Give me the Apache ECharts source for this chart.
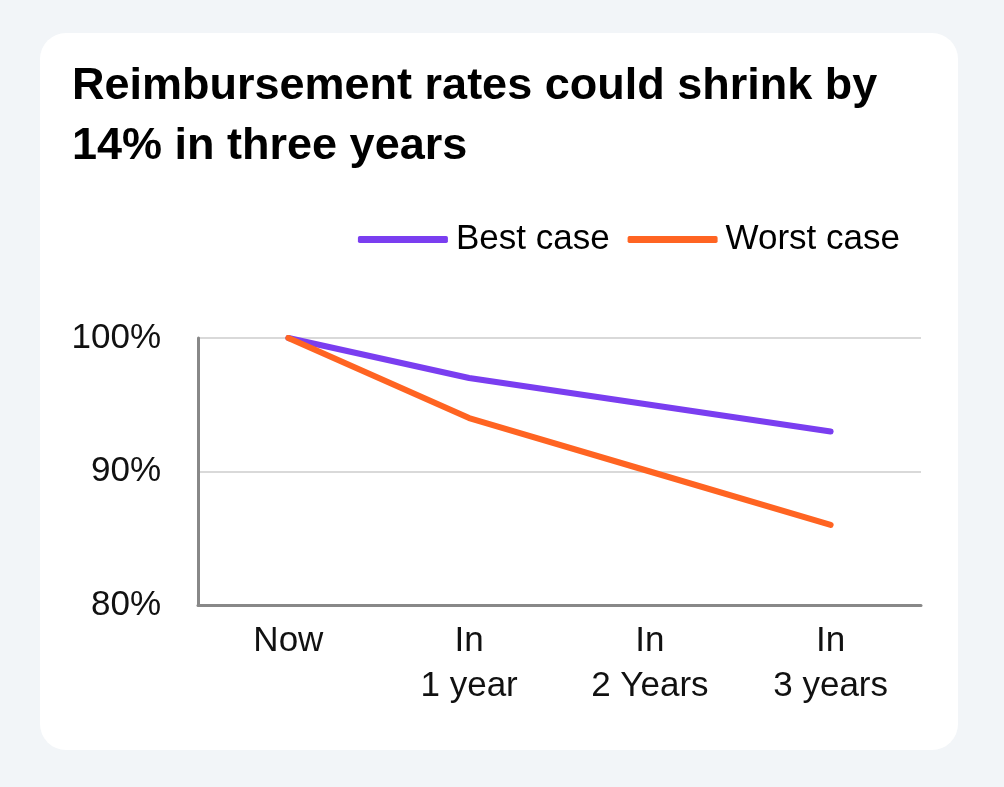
<!DOCTYPE html>
<html>
<head>
<meta charset="utf-8">
<script src="https://cdn.jsdelivr.net/npm/echarts@6/dist/echarts.min.js"></script>
<style>
html,body{margin:0;padding:0;background:#f2f5f8;}
#c{width:1004px;height:787px;}
</style>
</head>
<body>
<div id="c"></div>
<script>
const categories = ['Now', 'In\n1 year', 'In\n2 Years', 'In\n3 years'];
const bestCase = [100, 97, 95, 93];
const worstCase = [100, 94, 90, 86];
const yTicks = [80, 90, 100];

const chart = echarts.init(document.getElementById('c'), null, {renderer: 'canvas'});
const font = 'Liberation Sans, Arial, sans-serif';
chart.setOption({
  backgroundColor: '#f2f5f8',
  animation: false,
  graphic: [{
    type: 'rect', z: -10,
    shape: {x: 40, y: 33, width: 918, height: 717, r: 26},
    style: {fill: '#ffffff'}
  }],
  title: {
    text: 'Reimbursement rates could shrink by\n14% in three years',
    left: 67, top: 52,
    textStyle: {fontFamily: font, fontSize: 45, fontWeight: 'bold', color: '#000', lineHeight: 60}
  },
  legend: {
    right: 99, top: 217,
    itemWidth: 90, itemHeight: 7, itemGap: 18,
    icon: 'roundRect',
    textStyle: {fontFamily: font, fontSize: 35, color: '#000', padding: [0, 0, 0, 3]},
    data: ['Best case', 'Worst case']
  },
  grid: {left: 198, right: 83, top: 338, bottom: 182, containLabel: false},
  xAxis: {
    type: 'category', data: categories, boundaryGap: true,
    axisLine: {show: true, lineStyle: {color: '#888', width: 3}},
    axisTick: {show: false},
    axisLabel: {fontFamily: font, fontSize: 35, color: '#111', lineHeight: 45, margin: 14}
  },
  yAxis: {
    type: 'value', min: yTicks[0], max: yTicks[yTicks.length - 1], interval: 10,
    axisLine: {show: true, lineStyle: {color: '#888', width: 3}},
    axisTick: {show: false},
    splitLine: {lineStyle: {color: '#d9d9d9', width: 2}},
    axisLabel: {fontFamily: font, fontSize: 35, color: '#111', margin: 37, formatter: '{value}%'}
  },
  series: [
    {name: 'Best case', type: 'line', data: bestCase, showSymbol: false, symbol: 'none',
     color: '#7a3ef0', lineStyle: {width: 6, color: '#7a3ef0', cap: 'round'}},
    {name: 'Worst case', type: 'line', data: worstCase, showSymbol: false, symbol: 'none',
     color: '#ff6422', lineStyle: {width: 6, color: '#ff6422', cap: 'round'}}
  ]
});
</script>
</body>
</html>
